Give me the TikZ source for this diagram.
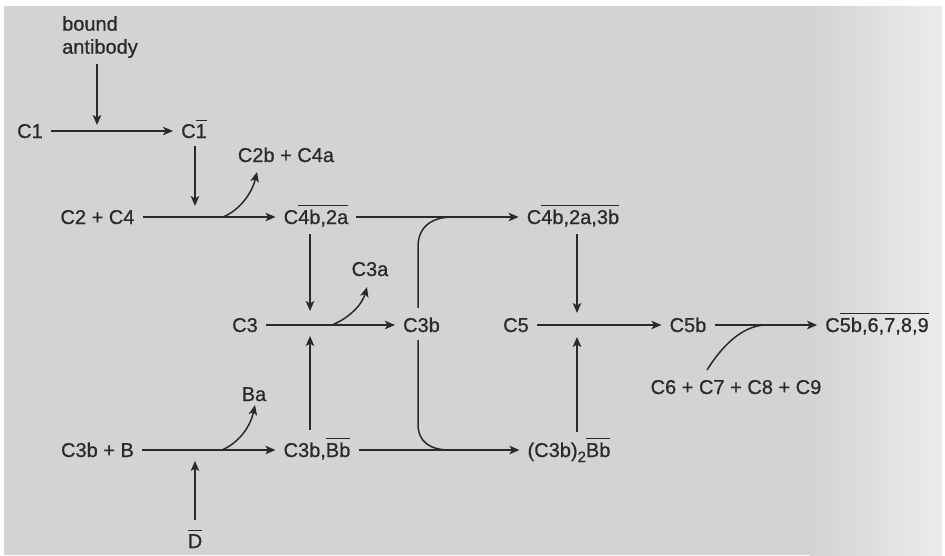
\documentclass[tikz,border=0pt]{standalone}
\usepackage{fontspec}
\setmainfont{Liberation Sans}
\newfontfamily\inkfont[FakeBold=0.7]{Liberation Sans}
\usetikzlibrary{arrows.meta}
\definecolor{ink}{HTML}{2A2A2A}
\definecolor{paper}{HTML}{D3D3D3}
\definecolor{paperR}{HTML}{ECECEC}
\newcommand\ovl[1]{\leavevmode\vbox{\hrule height 1.4pt\kern 3.2pt\hbox{#1}}}
\newcommand\subtwo{\raisebox{-5pt}{\fontsize{15}{15}\selectfont 2}}
\begin{document}
\begin{tikzpicture}[x=1pt,y=-1pt,
  lbl/.style={font=\fontsize{20}{23}\selectfont\inkfont, text=ink, text height=14pt, text depth=0pt, inner xsep=8pt, inner ysep=4pt},
  arr/.style={draw=ink, line width=1.5pt, -{Stealth[length=10pt,width=8.5pt,inset=2.5pt]}},
  ln/.style={draw=ink, line width=1.5pt}]
\useasboundingbox (0,0) rectangle (945,555);
% paper
\fill[white] (0,0) rectangle (945,555);
\fill[paper] (4,6) rectangle (810,555);
\shade[left color=paper, right color=paperR] (809.5,6) rectangle (942,555);

% nodes
\node[font=\fontsize{20}{23}\selectfont\inkfont, text=ink, align=left, anchor=north west, inner sep=0pt] (bound) at (62,16) {bound\\antibody};
\node[lbl] (C1) at (30,131) {C1};
\node[lbl] (C1bar) at (194,131) {C\ovl{1}};
\node[lbl] (C2C4) at (97.5,217) {C2 + C4};
\node[lbl] (C2b) at (286,155) {C2b + C4a};
\node[lbl] (C4b2a) at (316,217) {C\ovl{4b,2a}};
\node[lbl] (C4b2a3b) at (573,217) {C\ovl{4b,2a,3b}};
\node[lbl] (C3) at (245,325) {C3};
\node[lbl] (C3a) at (370,269) {C3a};
\node[lbl] (C3b) at (421.5,325) {C3b};
\node[lbl] (C5) at (516,325) {C5};
\node[lbl] (C5b) at (688,325) {C5b};
\node[lbl] (C5b6) at (877,325) {C\ovl{5b,6,7,8,9}};
\node[lbl] (C6) at (736,387) {C6 + C7 + C8 + C9};
\node[lbl] (C3bB) at (97.5,450) {C3b + B};
\node[lbl] (Ba) at (254,394) {Ba};
\node[lbl] (C3bBb) at (317,450) {C3b,\ovl{Bb}};
\node[lbl] (C32Bb) at (569,450) {(C3b)\subtwo\ovl{Bb}};
\node[lbl] (D) at (195,541) {\ovl{D}};

% coordinates
\coordinate (t1) at (97,125);
\coordinate (t2) at (195,206);
\coordinate (t3) at (310,311);
\coordinate (t4) at (310,336);
\coordinate (t5) at (195,461);
\coordinate (t6) at (577,313);
\coordinate (t7) at (577,337);
\coordinate (j1) at (223,217);
\coordinate (e1) at (257,172);
\coordinate (j2) at (332,325);
\coordinate (e2) at (367,287);
\coordinate (j3) at (222,450);
\coordinate (e3) at (255,405);
\coordinate (s4) at (707,370);
\coordinate (j4) at (765,325);
\coordinate (k1) at (418,247);
\coordinate (k2) at (453,217);
\coordinate (k3) at (418,424);
\coordinate (k4) at (450,450);

% main horizontal arrows
\draw[arr] (C1) -- (C1bar);
\draw[arr] (C2C4) -- (C4b2a);
\draw[arr] (C4b2a) -- (C4b2a3b);
\draw[arr] (C3) -- (C3b);
\draw[arr] (C5) -- (C5b);
\draw[arr] (C5b) -- (C5b6);
\draw[arr] (C3bB) -- (C3bBb);
\draw[arr] (C3bBb) -- (C32Bb);

% vertical arrows
\draw[arr, shorten <=6pt] (bound.south -| t1) -- (t1);
\draw[arr, shorten <=4pt] (C1bar.south -| t2) -- (t2);
\draw[arr, shorten <=6pt] (C4b2a.south -| t3) -- (t3);
\draw[arr, shorten <=9pt] (C3bBb.north -| t4) -- (t4);
\draw[arr, shorten <=10pt] (D.north -| t5) -- (t5);
\draw[arr, shorten <=6pt] (C4b2a3b.south -| t6) -- (t6);
\draw[arr, shorten <=7pt] (C32Bb.north -| t7) -- (t7);

% branch curves
\draw[arr] (j1) .. controls (240,210) and (252,193) .. (e1);
\draw[arr] (j2) .. controls (349,318) and (362,305) .. (e2);
\draw[arr] (j3) .. controls (238,443) and (250,428) .. (e3);
\draw[ln] (s4) .. controls (722,346) and (742,326) .. (j4);

% C3b joining curves
\draw[ln, shorten <=6pt] (C3b.north -| k1) -- (k1) .. controls (418,228) and (430,217) .. (k2);
\draw[ln, shorten <=4pt] (C3b.south -| k3) -- (k3) .. controls (418,442) and (430,450) .. (k4);
\end{tikzpicture}
\end{document}
